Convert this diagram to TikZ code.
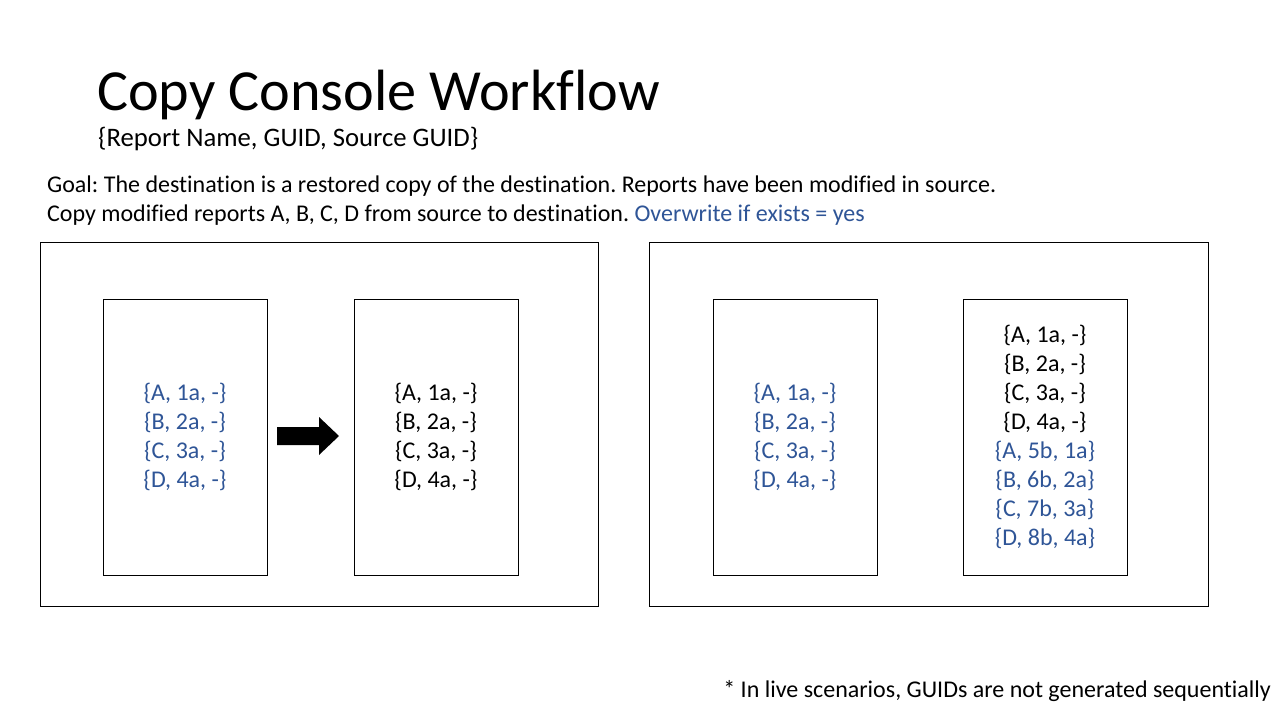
\documentclass[tikz,border=0pt]{standalone}
\usepackage{fontspec}
\setmainfont[Ligatures=NoCommon]{Carlito}
\definecolor{accentblue}{HTML}{2F5597}
\begin{document}
\frenchspacing
\begin{tikzpicture}[x=1pt,y=-1pt,
  frame/.style={draw=black,line width=1pt},
  panel/.style={draw=black,line width=1pt,minimum width=164pt,minimum height=276pt,inner sep=0pt},
  entries/.style={align=center,font=\fontsize{24}{29}\selectfont,inner sep=0pt},
  txt/.style={inner sep=0pt,font=\fontsize{24}{29}\selectfont}]
\useasboundingbox (0,0) rectangle (1280,720);
\fill[white] (0,0) rectangle (1280,720);

% heading
\node[inner sep=0pt,anchor=base west,font=\fontsize{58.2}{70}\selectfont] (title) at (97,110) {Copy Console Workflow};
\node[inner sep=0pt,anchor=base west,font=\fontsize{26.7}{32}\selectfont] (subtitle) at (98,146) {\{Report Name, GUID, Source GUID\}};

% goal description
\node[txt,anchor=base west] (goal1) at (47,192) {Goal: The destination is a restored copy of the destination. Reports have been modified in source.};
\node[txt,anchor=base west] (goal2) at (47,221) {Copy modified reports A, B, C, D from source to destination. \textcolor{accentblue}{Overwrite if exists = yes}};

% outer frames
\draw[frame] (40,242) rectangle (598,606);
\draw[frame] (649,242) rectangle (1208,606);

% before copy
\node[panel] (src1) at (185,437) {};
\node[panel] (dst1) at (436,437) {};
\node[entries,text=accentblue] at (src1.center) {\{A, 1a, -\}\\\{B, 2a, -\}\\\{C, 3a, -\}\\\{D, 4a, -\}};
\node[entries] at (dst1.center) {\{A, 1a, -\}\\\{B, 2a, -\}\\\{C, 3a, -\}\\\{D, 4a, -\}};

% block arrow
\fill[black] (277,427) -- (319,427) -- (319,417) -- (339,436) -- (319,455) -- (319,445) -- (277,445) -- cycle;

% after copy
\node[panel] (src2) at (795,437) {};
\node[panel] (dst2) at (1045,437) {};
\node[entries,text=accentblue] at (src2.center) {\{A, 1a, -\}\\\{B, 2a, -\}\\\{C, 3a, -\}\\\{D, 4a, -\}};
\node[entries] at (dst2.center) {\{A, 1a, -\}\\\{B, 2a, -\}\\\{C, 3a, -\}\\\{D, 4a, -\}\\
  \textcolor{accentblue}{\{A, 5b, 1a\}}\\\textcolor{accentblue}{\{B, 6b, 2a\}}\\\textcolor{accentblue}{\{C, 7b, 3a\}}\\\textcolor{accentblue}{\{D, 8b, 4a\}}};

% footnote
\node[txt,anchor=base east] (note) at (1271,697) {* In live scenarios, GUIDs are not generated sequentially};
\end{tikzpicture}
\end{document}
